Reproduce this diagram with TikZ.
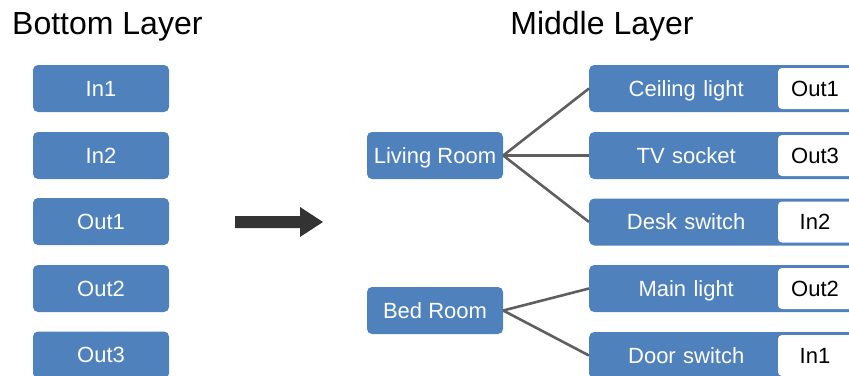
\documentclass[tikz,border=0pt]{standalone}
\usepackage{fontspec}
\setmainfont{Liberation Sans}
\definecolor{boxblue}{HTML}{4F81BD}
\definecolor{linkgray}{HTML}{5F5F5F}
\definecolor{arrowgray}{HTML}{333333}
\begin{document}
\begin{tikzpicture}[x=1pt,y=-1pt,
  title/.style={font=\fontsize{32}{35}\selectfont, inner sep=0pt},
  boxtext/.style={font=\fontsize{22}{24}\selectfont, text height=15.7pt, text depth=0pt},
  port/.style={boxtext, fill=boxblue, rounded corners=5pt, minimum width=136pt,
    minimum height=47pt, inner sep=0pt, text=white},
  room/.style={port},
  % blue device strip; the label sits in the left part, the rest carries the port tag
  device/.style={boxtext, fill=boxblue, rounded corners=5pt, minimum width=300pt,
    minimum height=47pt, inner sep=0pt, anchor=west, text=white, align=left,
    text width=300pt, execute at begin node={\hbox to 194pt\bgroup\hss},
    execute at end node={\hss\egroup}},
  tag/.style={boxtext, fill=white, rounded corners=4pt, anchor=west, outer sep=0pt,
    minimum width=120pt, minimum height=41pt, inner sep=0pt, text=black, align=left,
    text width=120pt, execute at begin node={\hbox to 74pt\bgroup\hss},
    execute at end node={\hss\egroup}},
  link/.style={draw=linkgray, line width=2.6pt}
]
\useasboundingbox (0,0) rectangle (849,375);

% headings
\node[title, anchor=base west] (hb) at (12,34.5) {Bottom Layer};
\node[title, anchor=base] (hm) at (602,34.5) {Middle Layer};

% bottom layer ports
\node[port] (in1)  at (101,88.5)  {In1};
\node[port] (in2)  at (101,155.5) {In2};
\node[port] (out1) at (101,221.5) {Out1};
\node[port] (out2) at (101,288.5) {Out2};
\node[port] (out3) at (101,355)   {Out3};

% transition arrow
\fill[arrowgray] (235,216) -- (300,216) -- (300,207) -- (323,222) -- (300,237)
  -- (300,228) -- (235,228) -- cycle;

% rooms
\node[room] (lr) at (435,155.5) {Living Room};
\node[room] (br) at (435,310.5) {Bed Room};

% devices with their assigned ports
\node[device] (cl) at (589,88.5)  {Ceiling light};
\node[device] (tv) at (589,155.5) {TV socket};
\node[device] (ds) at (589,222)   {Desk switch};
\node[device] (ml) at (589,288.5) {Main light};
\node[device] (dr) at (589,355.5) {Door switch};

\node[tag] (tcl) at (778,88.5)  {Out1};
\node[tag] (ttv) at (778,155.5) {Out3};
\node[tag] (tds) at (778,222)   {In2};
\node[tag] (tml) at (778,288.5) {Out2};
\node[tag] (tdr) at (778,355.5) {In1};

% room-to-device links
\draw[link] (lr.east) -- (cl.west);
\draw[link] (lr.east) -- (tv.west);
\draw[link] (lr.east) -- (ds.west);
\draw[link] (br.east) -- (ml.west);
\draw[link] (br.east) -- (dr.west);
\end{tikzpicture}
\end{document}
